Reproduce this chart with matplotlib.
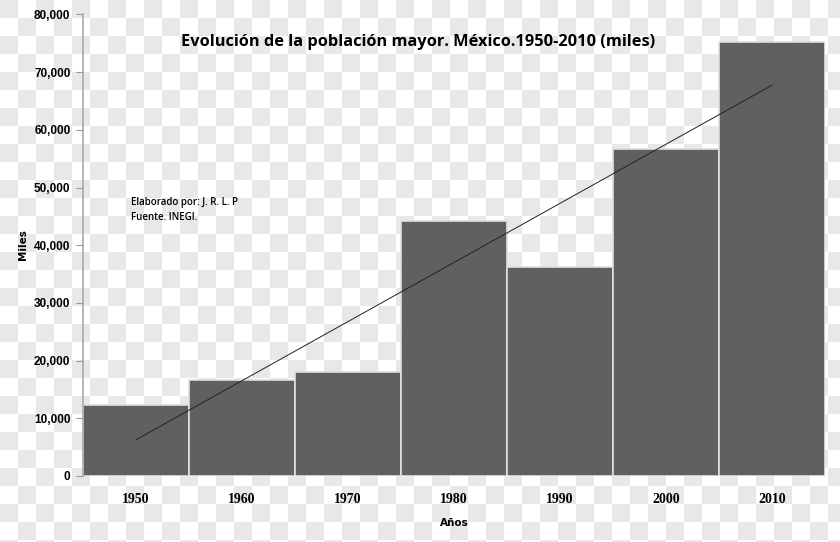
import numpy as np
import matplotlib
matplotlib.use("Agg")
import matplotlib.pyplot as plt

# Datos (miles de personas)
years = ["1950", "1960", "1970", "1980", "1990", "2000", "2010"]
poblacion = [12300, 16600, 18000, 44200, 36200, 56600, 75200]
yticks = [0, 10000, 20000, 30000, 40000, 50000, 60000, 70000, 80000]

BAR_COLOR = "#606060"
CHECK = 18  # tamano del cuadro del fondo en px

fig = plt.figure(figsize=(8.4, 5.42), dpi=100)

# fondo a cuadros
W, H = 840, 542
yy, xx = np.mgrid[0:H, 0:W]
board = ((xx // CHECK + yy // CHECK) % 2).astype(float)
bg = np.where(board == 0, 0.91, 1.0)
bg_ax = fig.add_axes([0, 0, 1, 1], zorder=-1)
bg_ax.imshow(bg, cmap="gray", vmin=0, vmax=1, aspect="auto", interpolation="nearest")
bg_ax.axis("off")

ax = fig.add_axes([83 / W, 1 - 476 / H, (825 - 83) / W, (476 - 14.5) / H])
ax.patch.set_alpha(0)

x = np.arange(len(years))
ax.bar(x, poblacion, width=1.0, color=BAR_COLOR, edgecolor="#e0e0e0", linewidth=1.2)

# linea de tendencia lineal
coef = np.polyfit(x, poblacion, 1)
ax.plot(x, np.polyval(coef, x), color="#222222", linewidth=0.7)

ax.set_xlim(-0.5, len(years) - 0.5)
ax.set_ylim(0, 80000)
ax.set_yticks(yticks)
ax.set_yticklabels([f"{v:,}" for v in yticks], fontsize=8.5, fontweight="bold",
                   family="Liberation Sans")
ax.set_xticks(x)
ax.set_xticklabels(years, fontsize=10, fontweight="bold", family="Liberation Serif")
ax.tick_params(axis="x", length=0, pad=12)
ax.tick_params(axis="y", length=5, color="#999999", pad=4)

for side in ["top", "right", "bottom"]:
    ax.spines[side].set_visible(False)
ax.spines["left"].set_color("#aaaaaa")
ax.spines["left"].set_linewidth(1.2)

ax.set_xlabel("Años", fontsize=7.5, fontweight="bold", labelpad=9)
fig.text(23 / W, 1 - 245 / H, "Miles", rotation=90, ha="center", va="center",
         fontsize=7.5, fontweight="bold")

fig.text(418 / W, 1 - 42 / H, "Evolución de la población mayor. México.1950-2010 (miles)",
         ha="center", va="center", fontsize=11.8, fontweight="bold", family="Open Sans")
fig.text(131 / W, 1 - 210 / H, "Elaborado por: J. R. L. P\nFuente. INEGI.",
         ha="left", va="center", fontsize=7, fontweight="semibold", family="Open Sans",
         linespacing=1.5)

fig.savefig("out.png", dpi=100)
